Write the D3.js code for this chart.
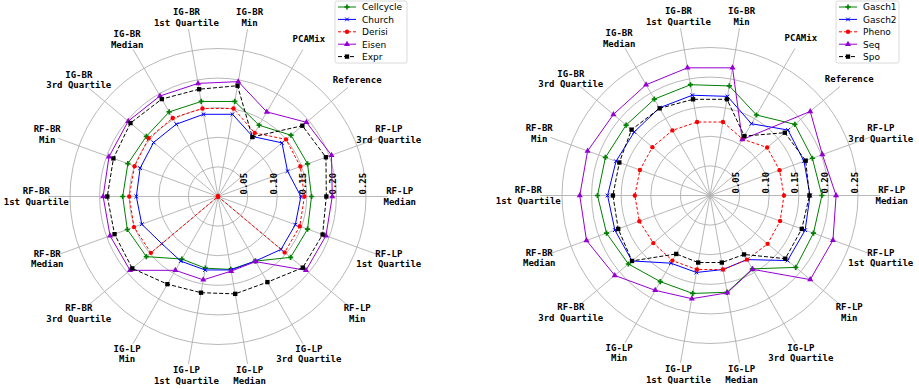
<!DOCTYPE html>
<html>
<head>
<meta charset="utf-8">
<script src="https://cdn.jsdelivr.net/npm/d3@7"></script>
<style>
  body { margin: 0; background: #fff; }
  svg { display: block; }
</style>
</head>
<body>
<div id="chart"></div>
<script>
// spoke labels, counter-clockwise starting at 3 o'clock
const categories = [
  "RF-LP Median", "RF-LP 3rd Quartile", "Reference", "PCAMix",
  "IG-BR Min", "IG-BR 1st Quartile", "IG-BR Median", "IG-BR 3rd Quartile",
  "RF-BR Min", "RF-BR 1st Quartile", "RF-BR Median", "RF-BR 3rd Quartile",
  "IG-LP Min", "IG-LP 1st Quartile", "IG-LP Median", "IG-LP 3rd Quartile",
  "RF-LP Min", "RF-LP 1st Quartile"
];
const rTicks = [0.05, 0.10, 0.15, 0.20, 0.25];

// left panel
const leftNames = ["Cellcycle", "Church", "Derisi", "Eisen", "Expr"];
const cellcycle = [0.158, 0.161, 0.161, 0.139, 0.163, 0.163, 0.165, 0.158, 0.162, 0.161, 0.163, 0.158, 0.122, 0.123, 0.125, 0.126, 0.160, 0.161];
const church    = [0.140, 0.125, 0.141, 0.117, 0.141, 0.141, 0.141, 0.142, 0.140, 0.138, 0.137, 0.124, 0.126, 0.126, 0.126, 0.126, 0.139, 0.139];
const derisi    = [0.146, 0.148, 0.150, 0.124, 0.151, 0.151, 0.153, 0.153, 0.150, 0.150, 0.151, 0.148, 0, 0, 0, 0, 0.147, 0.147];
const eisen     = [0.193, 0.204, 0.195, 0.165, 0.197, 0.194, 0.196, 0.198, 0.196, 0.194, 0.194, 0.194, 0.144, 0.143, 0.128, 0.127, 0.194, 0.194];
const expr      = [0.183, 0.194, 0.186, 0.116, 0.190, 0.184, 0.190, 0.193, 0.188, 0.187, 0.186, 0.189, 0.171, 0.165, 0.167, 0.167, 0.187, 0.188];

// right panel
const rightNames = ["Gasch1", "Gasch2", "Pheno", "Seq", "Spo"];
const gasch1 = [0.189, 0.184, 0.187, 0.157, 0.188, 0.190, 0.188, 0.185, 0.188, 0.190, 0.186, 0.180, 0.168, 0.168, 0.166, 0.143, 0.189, 0.186];
const gasch2 = [0.169, 0.169, 0.172, 0.140, 0.170, 0.172, 0.171, 0.167, 0.169, 0.173, 0.171, 0.172, 0.132, 0.132, 0.127, 0.125, 0.171, 0.171];
const pheno  = [0.125, 0.125, 0.126, 0.110, 0.126, 0.126, 0.127, 0.127, 0.126, 0.127, 0.127, 0.125, 0.127, 0.127, 0.127, 0.125, 0.127, 0.126];
const seq    = [0.213, 0.202, 0.221, 0.109, 0.219, 0.219, 0.216, 0.213, 0.220, 0.220, 0.222, 0.210, 0.185, 0.177, 0.167, 0.144, 0.221, 0.221];
const spo    = [0.168, 0.172, 0.165, 0.116, 0.165, 0.165, 0.170, 0.173, 0.163, 0.164, 0.165, 0.172, 0.114, 0.115, 0.115, 0.115, 0.166, 0.165];

const width = 919, height = 389;
const monoFont = "'DejaVu Sans Mono', monospace";
const sansFont = "'DejaVu Sans', sans-serif";

// one style per series slot, same for both panels
const styles = [
  { color: '#008000', dash: null,  symbol: d3.symbolCross,    size: 15, stroke: false },
  { color: '#0000ff', dash: null,  symbol: d3.symbolX,        size: 11, stroke: true },
  { color: '#ff0000', dash: '3,2', symbol: d3.symbolCircle,   size: 15, stroke: false },
  { color: '#9400d3', dash: null,  symbol: d3.symbolTriangle, size: 16, stroke: false },
  { color: '#000000', dash: '4,2', symbol: d3.symbolSquare,   size: 19, stroke: false }
];

const svg = d3.select('#chart').append('svg')
  .attr('width', width)
  .attr('height', height);

const r = d3.scaleLinear().domain([0, 0.25]).range([0, 148]);
const angle = d3.scaleLinear().domain([0, categories.length]).range([0, 2 * Math.PI]);
const spokeEnd = 0.287;
const labelAt = 0.307;

function drawRadar(cx, cy, names, series) {
  const g = svg.append('g').attr('transform', `translate(${cx},${cy})`);
  const pos = (i, v) => [r(v) * Math.cos(angle(i)), -r(v) * Math.sin(angle(i))];

  // rings
  g.selectAll('.ring')
    .data(rTicks)
    .enter()
    .append('circle')
    .attr('class', 'ring')
    .attr('r', (d) => r(d))
    .attr('fill', 'none')
    .attr('stroke', '#b0b0b0')
    .attr('stroke-width', 0.9);

  // spokes
  g.selectAll('.spoke')
    .data(categories)
    .enter()
    .append('line')
    .attr('class', 'spoke')
    .attr('x1', 0)
    .attr('y1', 0)
    .attr('x2', (d, i) => pos(i, spokeEnd)[0])
    .attr('y2', (d, i) => pos(i, spokeEnd)[1])
    .attr('stroke', '#b0b0b0')
    .attr('stroke-width', 0.9);

  // r tick labels, rotated along the 0 degree spoke
  g.selectAll('.rtick')
    .data(rTicks)
    .enter()
    .append('text')
    .attr('class', 'rtick')
    .attr('transform', (d) => `translate(${r(d) - 0.5},-2) rotate(-90)`)
    .attr('font-family', monoFont)
    .attr('font-weight', 'bold')
    .attr('font-size', 9)
    .attr('fill', '#000')
    .text((d) => d3.format('.2f')(d));

  // category labels
  const lab = g.selectAll('.cat')
    .data(categories)
    .enter()
    .append('text')
    .attr('class', 'cat')
    .attr('font-family', monoFont)
    .attr('font-weight', 'bold')
    .attr('font-size', 9)
    .attr('text-anchor', 'middle')
    .attr('fill', '#000');

  lab.each(function (d, i) {
    const [x, y] = pos(i, labelAt);
    const k = d.indexOf(' ');
    const lines = k < 0 ? [d] : [d.slice(0, k), d.slice(k + 1)];
    const lh = 10.5;
    const y0 = y - (lines.length - 1) * lh / 2 + 3.2;
    d3.select(this)
      .selectAll('tspan')
      .data(lines)
      .enter()
      .append('tspan')
      .attr('x', x)
      .attr('y', (l, j) => y0 + j * lh)
      .text((l) => l);
  });

  // series
  const line = d3.line().curve(d3.curveLinearClosed);
  series.forEach((vals, s) => {
    const st = styles[s];
    const pts = vals.map((v, i) => pos(i, v));
    g.append('path')
      .attr('d', line(pts))
      .attr('fill', 'none')
      .attr('stroke', st.color)
      .attr('stroke-width', 1)
      .attr('stroke-dasharray', st.dash);

    const sym = d3.symbol().type(st.symbol).size(st.size);
    g.selectAll(null)
      .data(pts)
      .enter()
      .append('path')
      .attr('d', sym)
      .attr('transform', (p) => `translate(${p[0]},${p[1]})`)
      .attr('fill', st.stroke ? 'none' : st.color)
      .attr('stroke', st.stroke ? st.color : 'none')
      .attr('stroke-width', 1);
  });
}

function drawLegend(x, y, w, names) {
  const g = svg.append('g').attr('transform', `translate(${x},${y})`);
  g.append('rect')
    .attr('width', w)
    .attr('height', 62)
    .attr('rx', 2)
    .attr('fill', '#fff')
    .attr('fill-opacity', 0.8)
    .attr('stroke', '#d0d0d0')
    .attr('stroke-width', 0.8);

  names.forEach((name, s) => {
    const st = styles[s];
    const ry = 6 + s * 12.4;
    g.append('line')
      .attr('x1', 3)
      .attr('x2', 21)
      .attr('y1', ry)
      .attr('y2', ry)
      .attr('stroke', st.color)
      .attr('stroke-width', 1)
      .attr('stroke-dasharray', st.dash);
    g.append('path')
      .attr('d', d3.symbol().type(st.symbol).size(st.size)())
      .attr('transform', `translate(12,${ry})`)
      .attr('fill', st.stroke ? 'none' : st.color)
      .attr('stroke', st.stroke ? st.color : 'none')
      .attr('stroke-width', 1);
    g.append('text')
      .attr('x', 27)
      .attr('y', ry + 3.3)
      .attr('font-family', sansFont)
      .attr('font-size', 9)
      .attr('fill', '#000')
      .text(name);
  });
}

drawRadar(218, 196.5, leftNames, [cellcycle, church, derisi, eisen, expr]);
drawRadar(710, 195.5, rightNames, [gasch1, gasch2, pheno, seq, spo]);
drawLegend(335, 1, 72, leftNames);
drawLegend(836, 1, 63, rightNames);
</script>
</body>
</html>
